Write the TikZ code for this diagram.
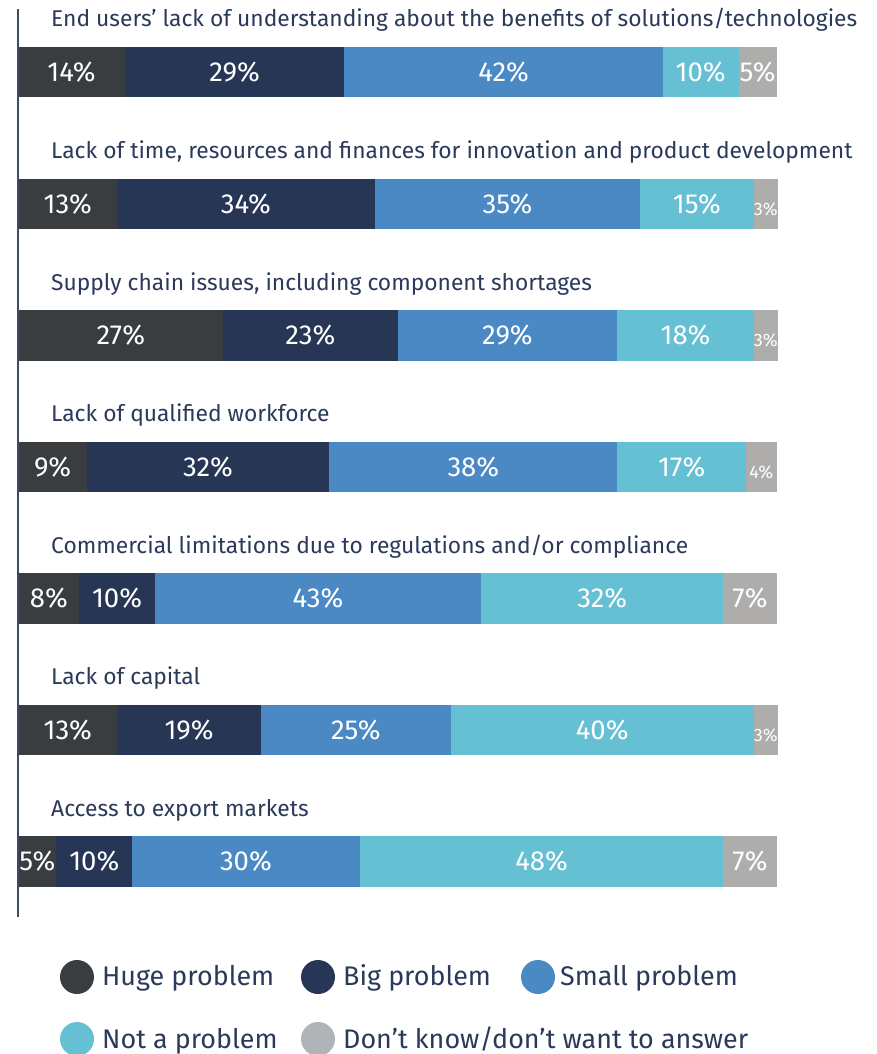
\documentclass[tikz,border=0pt]{standalone}
\usepackage{fontspec}
\setmainfont{Fira Sans}
\definecolor{cHuge}{HTML}{393D3F}
\definecolor{cBig}{HTML}{263654}
\definecolor{cSmall}{HTML}{4A89C3}
\definecolor{cNot}{HTML}{65C0D3}
\definecolor{cDk}{HTML}{AEADAB}
\definecolor{cDkLeg}{HTML}{B0B3B8}
\definecolor{cText}{HTML}{2B3A5A}
\definecolor{cAxis}{HTML}{3F4B66}
\tikzset{
  segbox/.style={rectangle, inner sep=0pt, outer sep=0pt, minimum height=50.5pt,
    text depth=0pt, text=white, anchor=north west},
  pctbig/.style={font=\fontsize{27.5}{27.5}\selectfont, text height=19.3pt},
  pctsmall/.style={font=\fontsize{18}{18}\selectfont, text height=23pt},
  rowlab/.style={anchor=base west, inner sep=0pt, text=cText, font=\fontsize{22.8}{22.8}\selectfont},
  legdot/.style={circle, inner sep=0pt, minimum size=34pt},
  legtext/.style={anchor=base west, inner sep=0pt, text=cText, font=\fontsize{26.9}{26.9}\selectfont},
  axisline/.style={draw=cAxis, line width=1.5pt},
}
\newcommand\seg[5]{%
  \pgfmathsetmacro\sx{18.5+7.58*(#3)}%
  \pgfmathsetmacro\sw{7.58*(#4)}%
  \ifnum#4<5\relax\def\pst{pctsmall}\else\def\pst{pctbig}\fi
  \node[segbox, \pst, fill=#5, minimum width=\sw pt] (s#1-#2) at (\sx,\ytop) {#4\%};%
}
\newcommand\barrow[7]{%
  \pgfmathsetmacro\ytop{47+131.5*#1}%
  \node[rowlab] (lab#1) at (51,\ytop-20) {#2};%
  \seg{#1}{1}{0}{#3}{cHuge}%
  \seg{#1}{2}{#3}{#4}{cBig}%
  \seg{#1}{3}{#3+#4}{#5}{cSmall}%
  \seg{#1}{4}{#3+#4+#5}{#6}{cNot}%
  \seg{#1}{5}{#3+#4+#5+#6}{#7}{cDk}%
}
\begin{document}
\begin{tikzpicture}[x=1pt,y=-1pt]
\useasboundingbox[fill=white] (0,0) rectangle (877,1054);
\barrow{0}{End users’ lack of understanding about the benefits of solutions/technologies}{14}{29}{42}{10}{5}
\barrow{1}{Lack of time, resources and finances for innovation and product development}{13}{34}{35}{15}{3}
\barrow{2}{Supply chain issues, including component shortages}{27}{23}{29}{18}{3}
\barrow{3}{Lack of qualified workforce}{9}{32}{38}{17}{4}
\barrow{4}{Commercial limitations due to regulations and/or compliance}{8}{10}{43}{32}{7}
\barrow{5}{Lack of capital}{13}{19}{25}{40}{3}
\barrow{6}{Access to export markets}{5}{10}{30}{48}{7}
\coordinate (axTop) at (18,9);
\coordinate (axBot) at (18,917);
\draw[axisline] (axTop) -- (axBot);
% legend
\node[legdot, fill=cHuge] (d1) at (77,977) {};
\node[legtext] (t1) at (102,985) {Huge problem};
\node[legdot, fill=cBig] (d2) at (318,977) {};
\node[legtext] (t2) at (343,985) {Big problem};
\node[legdot, fill=cSmall] (d3) at (538,977) {};
\node[legtext] (t3) at (560,985) {Small problem};
\node[legdot, fill=cNot] (d4) at (77,1039) {};
\node[legtext] (t4) at (102,1048) {Not a problem};
\node[legdot, fill=cDkLeg] (d5) at (318,1039) {};
\node[legtext] (t5) at (343,1048) {Don’t know/don’t want to answer};
\end{tikzpicture}
\end{document}
